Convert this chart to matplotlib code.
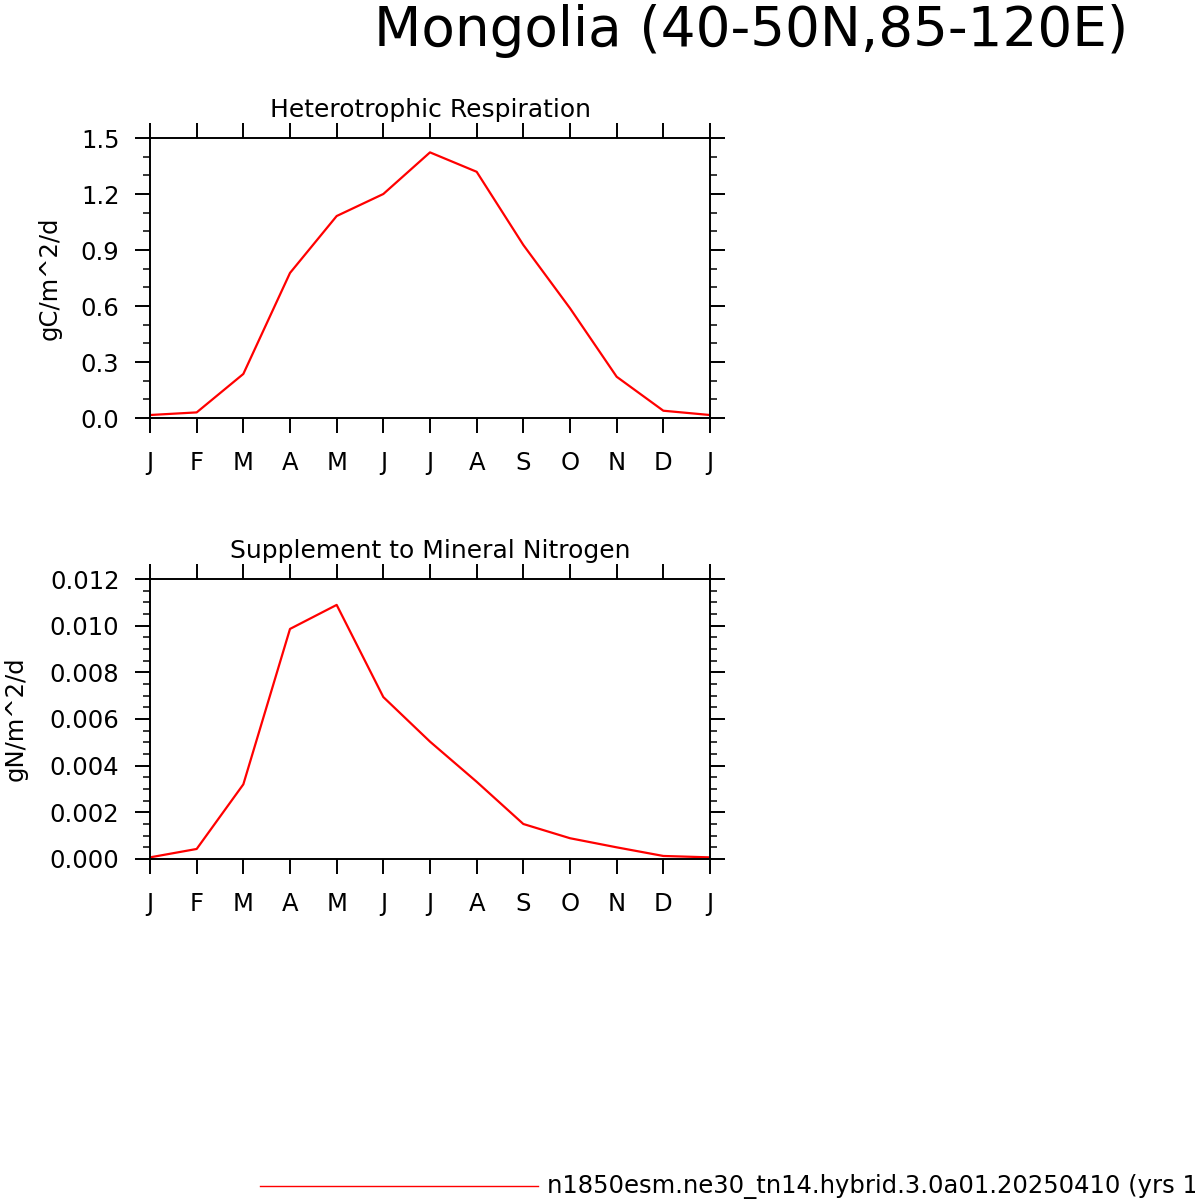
import numpy as np
import matplotlib.pyplot as plt
from matplotlib.ticker import MultipleLocator

months = ["J", "F", "M", "A", "M", "J", "J", "A", "S", "O", "N", "D", "J"]

# Jan..Dec, then Jan again to close the annual cycle
hr = [0.016, 0.030, 0.236, 0.777, 1.082, 1.200, 1.423, 1.319, 0.927, 0.588, 0.221, 0.039, 0.016]
sminn = [0.00007, 0.00043, 0.0032, 0.00986, 0.01089, 0.00694, 0.00503, 0.00331,
         0.0015, 0.00089, 0.0005, 0.00013, 0.00007]

case_name = "n1850esm.ne30_tn14.hybrid.3.0a01.20250410 (yrs 1-20)"

plt.rcParams["font.family"] = ["DejaVu Sans"]

W, H = 1195, 1199
fig = plt.figure(figsize=(W / 100, H / 100), dpi=100)


def make_panel(bottom_px, values, title, ylabel, ymax, major, minor, fmt, label_x):
    ax = fig.add_axes([150 / W, (H - bottom_px) / H, 560 / W, 280 / H])
    x = np.arange(len(values))
    line, = ax.plot(x, values, color="red", lw=1.6)
    ax.set_xlim(0, 12)
    ax.set_ylim(0, ymax)
    ax.set_xticks(x)
    ax.set_xticklabels(months)
    ax.yaxis.set_major_locator(MultipleLocator(major))
    ax.yaxis.set_minor_locator(MultipleLocator(minor))
    ax.set_yticklabels([fmt % v for v in ax.get_yticks()])
    ax.tick_params(axis="both", which="major", direction="out", length=11, width=1.4,
                   labelsize=17.5, top=True, right=True, pad=11)
    ax.tick_params(axis="x", which="major", pad=13)
    ax.tick_params(axis="y", which="minor", direction="out", length=5, width=1.1,
                   left=True, right=True)
    for s in ax.spines.values():
        s.set_linewidth(1.4)
    ax.text(0.5, 1.075, title, transform=ax.transAxes, ha="center", va="baseline",
            fontsize=18)
    ax.set_ylabel(ylabel, fontsize=17.5)
    ax.yaxis.set_label_coords(label_x, 0.5)
    return ax, line


ax1, line1 = make_panel(418, hr, "Heterotrophic Respiration", "gC/m^2/d",
                        1.5, 0.3, 0.1, "%.1f", -0.157)
ax2, line2 = make_panel(859, sminn, "Supplement to Mineral Nitrogen", "gN/m^2/d",
                        0.012, 0.002, 0.0005, "%.3f", -0.218)

fig.text(751 / W, (H - 46) / H, "Mongolia (40-50N,85-120E)", ha="center",
         va="baseline", fontsize=39.5)

# legend line and label at the bottom (runs off the right edge as in the original)
fig.add_artist(plt.Line2D([260 / W, 538 / W], [(H - 1186) / H] * 2, color="red", lw=1.0))
fig.text(547 / W, (H - 1193) / H, case_name, ha="left", va="baseline", fontsize=17.5)

fig.savefig("out.png", dpi=100)
